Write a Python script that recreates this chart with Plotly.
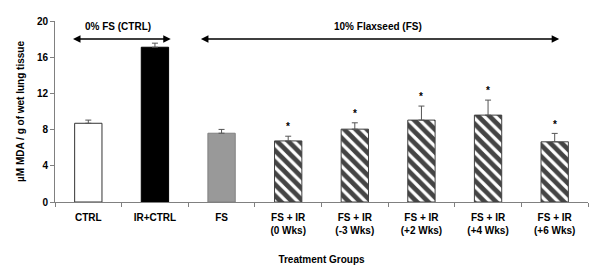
import plotly.graph_objects as go

categories = ["CTRL", "IR+CTRL", "FS", "FS + IR<br>(0 Wks)", "FS + IR<br>(-3 Wks)",
              "FS + IR<br>(+2 Wks)", "FS + IR<br>(+4 Wks)", "FS + IR<br>(+6 Wks)"]
values = [8.7, 17.1, 7.6, 6.75, 8.05, 9.05, 9.6, 6.65]
errors = [0.35, 0.45, 0.42, 0.52, 0.7, 1.55, 1.66, 0.93]
significant = [False, False, False, True, True, True, True, True]
y_ticks = [0, 4, 8, 12, 16, 20]

fill_colors = ["white", "black", "#999999", "white", "white", "white", "white", "white"]
line_colors = ["#333333", "black", "#808080", "#404040", "#404040", "#404040", "#404040", "#404040"]
patterns = ["", "", "", "\\", "\\", "\\", "\\", "\\"]

font = "Liberation Sans, Arial, sans-serif"

fig = go.Figure()
fig.add_trace(go.Bar(
    x=categories, y=values,
    marker=dict(color=fill_colors, line=dict(color=line_colors, width=1),
                pattern=dict(shape=patterns, fgcolor="black", fgopacity=1, size=8, solidity=0.6)),
    error_y=dict(type="data", array=errors, arrayminus=[0] * len(errors), symmetric=False,
                 color="#555555", thickness=1, width=3),
    width=0.41,
    showlegend=False,
))

annotations = []
for i, (v, e, s) in enumerate(zip(values, errors, significant)):
    if s:
        annotations.append(dict(x=i, y=v + e + 0.2, text="<b>*</b>", showarrow=False,
                                yanchor="bottom", font=dict(family=font, size=10, color="black")))

# group arrows
annotations.append(dict(x=-0.23, y=18.0, ax=1.26, ay=18.0, xref="x", yref="y", axref="x", ayref="y",
                        text="", showarrow=True, arrowhead=2, startarrowhead=2, arrowside="end+start",
                        arrowwidth=1.5, arrowsize=1, startarrowsize=1, arrowcolor="black"))
annotations.append(dict(x=0.45, y=19.4, text="<b>0% FS (CTRL)</b>", showarrow=False,
                        font=dict(family=font, size=10, color="black")))
annotations.append(dict(x=1.69, y=18.0, ax=7.09, ay=18.0, xref="x", yref="y", axref="x", ayref="y",
                        text="", showarrow=True, arrowhead=2, startarrowhead=2, arrowside="end+start",
                        arrowwidth=1.5, arrowsize=1, startarrowsize=1, arrowcolor="black"))
annotations.append(dict(x=4.35, y=19.4, text="<b>10% Flaxseed (FS)</b>", showarrow=False,
                        font=dict(family=font, size=10, color="black")))

fig.update_layout(
    width=600, height=276,
    margin=dict(l=55, r=12, t=21, b=74),
    paper_bgcolor="white", plot_bgcolor="white",
    font=dict(family=font, size=10, color="black"),
    annotations=annotations,
    bargap=0.59,
)
fig.update_xaxes(
    ticktext=["<b>" + c.replace("<br>", "</b><br><b>") + "</b>" for c in categories],
    tickvals=categories,
    tickson="boundaries", ticks="outside", ticklen=4, tickcolor="#808080",
    ticklabelstandoff=6,
    showline=True, linecolor="#808080", linewidth=1,
    range=[-0.5, 7.5],
    title=dict(text="<b>Treatment Groups</b>", font=dict(family=font, size=10), standoff=20),
    tickfont=dict(family=font, size=10),
)
fig.update_yaxes(
    range=[0, 20], tickvals=y_ticks, ticktext=["<b>%d</b>" % t for t in y_ticks],
    ticks="outside", ticklen=4, tickcolor="#808080",
    showline=True, linecolor="#808080", linewidth=1, showgrid=False, zeroline=False,
    title=dict(text="<b>µM MDA / g of wet lung tissue</b>", font=dict(family=font, size=10), standoff=10),
    tickfont=dict(family=font, size=10),
)

fig.write_html("out.html", config={"displayModeBar": False},
               post_script="document.body.style.margin='0';")
